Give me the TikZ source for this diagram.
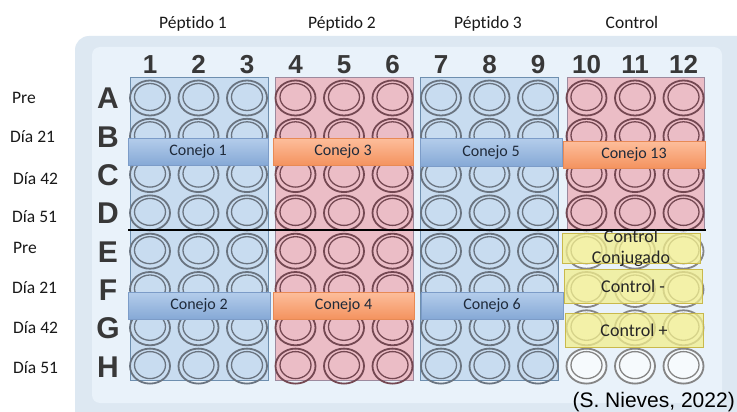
\documentclass[tikz,border=0pt]{standalone}
\usepackage{fontspec}
\setmainfont{Carlito}[RawFeature=-liga]
\newfontfamily\numfont{Liberation Sans}
\newfontfamily\citefont{Liberation Sans}
\definecolor{plateout}{HTML}{DDE8F2}
\definecolor{plateinner}{HTML}{E9F2FA}
\definecolor{bluefill}{HTML}{C8DCF0}
\definecolor{blueedge}{HTML}{6E8FAF}
\definecolor{redfill}{HTML}{EBBDC6}
\definecolor{rededge}{HTML}{9C8A9E}
\definecolor{bluering}{HTML}{6A7480}
\definecolor{redring}{HTML}{744852}
\definecolor{grayring}{HTML}{858585}
\definecolor{bbtop}{HTML}{B4CDEB}
\definecolor{bbbot}{HTML}{86A9D6}
\definecolor{bbedge}{HTML}{7C9CC8}
\definecolor{obtop}{HTML}{FDBE9C}
\definecolor{obbot}{HTML}{F4935F}
\definecolor{obedge}{HTML}{E88A55}
\definecolor{yfill}{HTML}{F2EE8C}
\definecolor{yedge}{HTML}{C9B94C}
\definecolor{numcol}{HTML}{383838}
\definecolor{txtcol}{HTML}{1F2A3A}
\newcommand\drawwell[3]{%
  \draw[#3, line width=1.8pt] (#1,#2) ellipse [x radius=20pt, y radius=17.5pt];
  \draw[#3, line width=1.3pt] (#1,#2-1) ellipse [x radius=15.5pt, y radius=13.5pt];
}
\tikzset{
  colrect/.style={draw, line width=0.8pt, inner sep=0pt, minimum width=138pt},
  bluerect/.style={colrect, fill=bluefill, draw=blueedge},
  redrect/.style={colrect, fill=redfill, draw=rededge},
  banner/.style={inner sep=0pt, minimum height=27pt, line width=0.8pt, font=\fontsize{16}{18}\selectfont, text=txtcol},
  bluebanner/.style={banner, top color=bbtop, bottom color=bbbot, draw=bbedge},
  orangebanner/.style={banner, top color=obtop, bottom color=obbot, draw=obedge},
  ybox/.style={fill=yfill, fill opacity=0.75, draw=yedge, line width=0.9pt, inner sep=0pt, minimum width=138pt, text opacity=1, text=black!85, font=\fontsize{18}{21}\selectfont},
  numlbl/.style={font=\numfont\bfseries\fontsize{26}{28}\selectfont, text=numcol, inner sep=0pt, anchor=base},
  rowlbl/.style={font=\numfont\bfseries\fontsize{30}{32}\selectfont, text=numcol, inner sep=0pt, anchor=base},
  sidelbl/.style={font=\fontsize{17.5}{20}\selectfont, anchor=west, inner sep=0pt, text=black!90},
  toplbl/.style={font=\fontsize{17.5}{20}\selectfont, anchor=base, inner sep=0pt, text=black!90},
}
\begin{document}
\begin{tikzpicture}[x=1pt,y=-1pt]
\useasboundingbox (0,0) rectangle (737,412);
\clip (0,0) rectangle (737,412);
\fill[white] (0,0) rectangle (737,412);
% plate
\fill[plateout, rounded corners=14pt] (75,36) rectangle (760,430);
\fill[plateinner, rounded corners=8pt] (92,47) rectangle (722,403);
% column regions
\node[bluerect, minimum height=303pt] (p1) at (199,228.5) {};
\node[redrect, minimum height=303pt] (p2) at (344,228.5) {};
\node[bluerect, minimum height=303pt] (p3) at (489,228.5) {};
\node[redrect, minimum width=137pt, minimum height=152pt] (p4) at (635.5,153) {};
% wells
\foreach \c in {1,...,12}{
  \foreach \r in {1,...,8}{
    \pgfmathsetmacro\wx{150+(\c-1)*48.5}
    \pgfmathsetmacro\wy{98+(\r-1)*38.3}
    \ifnum\c<4 \drawwell{\wx}{\wy}{bluering}\else
    \ifnum\c<7 \drawwell{\wx}{\wy}{redring}\else
    \ifnum\c<10 \drawwell{\wx}{\wy}{bluering}\else
    \ifnum\r<5 \drawwell{\wx}{\wy}{redring}\else
      \fill[white!60!plateinner] (\wx,\wy) ellipse [x radius=19pt, y radius=16.5pt];
      \drawwell{\wx}{\wy}{grayring}\fi\fi\fi\fi
  }
}
% column numbers and row letters
\foreach \c in {1,...,12}{
  \pgfmathsetmacro\wx{150+(\c-1)*48.5}
  \node[numlbl] (n\c) at (\wx,73.5) {\c};
}
\foreach \r/\L in {1/A,2/B,3/C,4/D,5/E,6/F,7/G,8/H}{
  \pgfmathsetmacro\wy{98+(\r-1)*38.3+11}
  \node[rowlbl] (r\L) at (108,\wy) {\L};
}
% separator line
\coordinate (la) at (128,230);
\coordinate (lb) at (706,230);
\draw[black, line width=1.5pt] (la) -- (lb);
% banners
\node[bluebanner, minimum width=140pt] (c1) at (198,151.5) {Conejo 1};
\node[orangebanner, minimum width=140pt] (c3) at (343,151.5) {Conejo 3};
\node[bluebanner, minimum width=142pt, minimum height=28pt] (c5) at (491,152) {Conejo 5};
\node[orangebanner, minimum width=142pt] (c13) at (634,154.5) {Conejo 13};
\node[bluebanner, minimum width=142pt] (c2) at (199,305.5) {Conejo 2};
\node[orangebanner, minimum width=141pt] (c4) at (343.5,305.5) {Conejo 4};
\node[bluebanner, minimum width=142pt] (c6) at (492,305.5) {Conejo 6};
% yellow controls
\node[ybox, minimum height=30pt] (ycc) at (631,248) {};
\node[align=center, font=\fontsize{18}{21}\selectfont, text=black!85, inner sep=0pt] (ycct) at (631,248) {Control\\Conjugado};
\node[ybox, minimum height=34pt] (ycm) at (633,286) {Control -};
\node[ybox, minimum height=34pt] (ycp) at (634,330) {Control +};
% top labels
\node[toplbl] (t1) at (193,29) {Péptido 1};
\node[toplbl] (t2) at (342,29) {Péptido 2};
\node[toplbl] (t3) at (488,29) {Péptido 3};
\node[toplbl] (t4) at (632,29) {Control};
% side labels
\node[sidelbl] (s1) at (12,98) {Pre};
\node[sidelbl] (s2) at (10,137) {Día 21};
\node[sidelbl] (s3) at (13,179) {Día 42};
\node[sidelbl] (s4) at (12,217) {Día 51};
\node[sidelbl] (s5) at (13,248) {Pre};
\node[sidelbl] (s6) at (12,288) {Día 21};
\node[sidelbl] (s7) at (13,328) {Día 42};
\node[sidelbl] (s8) at (13,368) {Día 51};
% citation
\node[font=\citefont\fontsize{21}{24}\selectfont, anchor=base east, inner sep=0pt] (cite) at (735,407) {(S. Nieves, 2022)};
\end{tikzpicture}
\end{document}
